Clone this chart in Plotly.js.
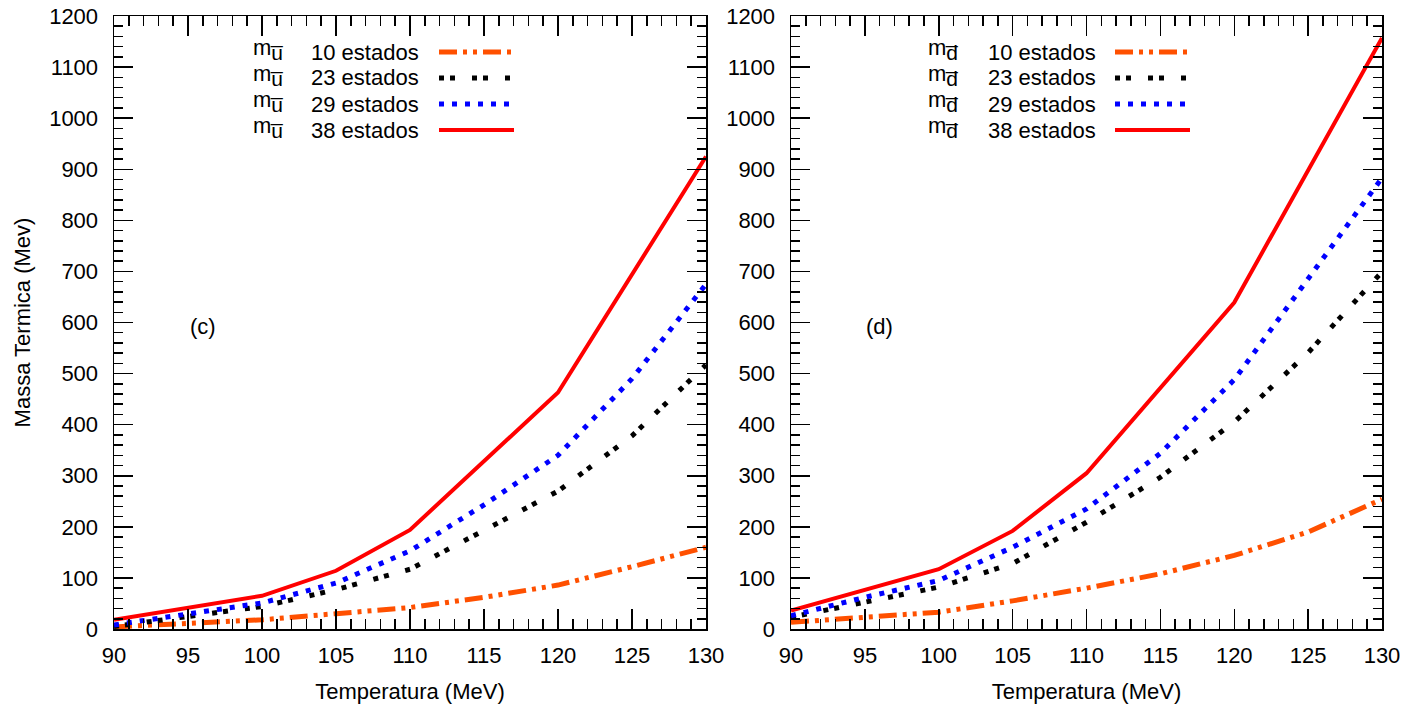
<!DOCTYPE html>
<html>
<head>
<meta charset="utf-8">
<script src="https://cdn.plot.ly/plotly-3.0.1.min.js"></script>
<style>html,body{margin:0;padding:0;background:#fff;}#chart{width:1423px;height:713px;}</style>
</head>
<body>
<div id="chart"></div>
<script>
// ---- data ----
const temps = [90, 95, 100, 105, 110, 115, 120, 125, 130];
const tempsRed = [90, 100, 105, 110, 120, 130];
const seriesNames = ["10 estados", "23 estados", "29 estados", "38 estados"];
// panel (c): m_u-bar
const c10 = [4, 10, 18, 30, 42, 62, 86, 122, 160];
const c23 = [5, 24, 44, 77, 117, 193, 270, 378, 517];
const c29 = [8, 30, 51, 90, 153, 243, 340, 490, 675];
const c38 = [18, 65, 114, 194, 463, 925];
// panel (d): m_d-bar
const d10 = [13, 23, 33, 55, 80, 108, 144, 190, 254];
const d23 = [23, 52, 82, 128, 209, 297, 405, 541, 699];
const d29 = [26, 62, 95, 160, 235, 344, 488, 685, 883];
const d38 = [36, 117, 192, 305, 639, 1157];
const xTickVals = [90, 95, 100, 105, 110, 115, 120, 125, 130];
const yTickVals = [0, 100, 200, 300, 400, 500, 600, 700, 800, 900, 1000, 1100, 1200];

// ---- styles ----
const FONT = "Liberation Sans, Arial, Helvetica, sans-serif";
const styles = [
  {color: "#ff5000", width: 5, dash: "18px,6px,4px,6px,4px,6px"},
  {color: "#000000", width: 5, dash: "5px,6px,5px,17px"},
  {color: "#0000ff", width: 5, dash: "5px,8px"},
  {color: "#ff0000", width: 4, dash: "solid"}
];

function tr(x, y, i, xa, ya) {
  return {x: x, y: y, type: "scatter", mode: "lines", xaxis: xa, yaxis: ya,
    line: {color: styles[i].color, width: styles[i].width, dash: styles[i].dash},
    showlegend: false, hoverinfo: "skip"};
}
const data = [
  tr(temps, c10, 0, "x", "y"), tr(temps, c23, 1, "x", "y"), tr(temps, c29, 2, "x", "y"), tr(tempsRed, c38, 3, "x", "y"),
  tr(temps, d10, 0, "x2", "y2"), tr(temps, d23, 1, "x2", "y2"), tr(temps, d29, 2, "x2", "y2"), tr(tempsRed, d38, 3, "x2", "y2")
];

function xax(dom, anchor) {
  return {domain: dom, anchor: anchor, range: [90, 130], tickvals: xTickVals,
    ticks: "inside", ticklen: 20, tickwidth: 1.5, tickcolor: "#000",
    minor: {dtick: 1, tick0: 90, ticks: "inside", ticklen: 10, tickwidth: 1.5, tickcolor: "#000"},
    showline: true, linewidth: 1.5, linecolor: "#000", mirror: "ticks",
    showgrid: false, zeroline: false, automargin: false,
    tickfont: {family: FONT, size: 22, color: "#000"}, ticklabelstandoff: 6,
    title: {text: "Temperatura (MeV)", font: {family: FONT, size: 22, color: "#000"}, standoff: 16}};
}
function yax(dom, anchor, withTitle) {
  const a = {domain: dom, anchor: anchor, range: [0, 1200], tickvals: yTickVals,
    ticks: "inside", ticklen: 19, tickwidth: 1.5, tickcolor: "#000",
    minor: {dtick: 20, tick0: 0, ticks: "inside", ticklen: 9, tickwidth: 1.5, tickcolor: "#000"},
    showline: true, linewidth: 1.5, linecolor: "#000", mirror: "ticks",
    showgrid: false, zeroline: false, automargin: false,
    tickfont: {family: FONT, size: 22, color: "#000"}, ticklabelstandoff: 10};
  if (withTitle) a.title = {text: "Massa Termica (Mev)", font: {family: FONT, size: 22, color: "#000"}, standoff: 12};
  return a;
}

const W = 1423, H = 713;
const yDom = [1 - 629 / H, 1 - 16 / H];
const layout = {
  width: W, height: H, margin: {l: 0, r: 0, t: 0, b: 0},
  paper_bgcolor: "#fff", plot_bgcolor: "#fff", showlegend: false,
  font: {family: FONT, size: 22, color: "#000"},
  xaxis: xax([114 / W, 706 / W], "y"),
  yaxis: yax(yDom, "x", true),
  xaxis2: xax([791 / W, 1382 / W], "y2"),
  yaxis2: yax(yDom, "x2", false),
  annotations: [], shapes: []
};

layout.annotations.push({x: 96, y: 593, xref: "x", yref: "y", text: "(c)", showarrow: false, font: {family: FONT, size: 22}});
layout.annotations.push({x: 96, y: 593, xref: "x2", yref: "y2", text: "(d)", showarrow: false, font: {family: FONT, size: 22}});

// custom key (text left of sample, gnuplot style)
const keys = [
  {mx: 251, tx: 309, sx0: 439, sx1: 514, sub: "u\u0305"},
  {mx: 926, tx: 986, sx0: 1115, sx1: 1190, sub: "d\u0305"}
];
const rowY = [52, 78, 104, 130];
keys.forEach(k => {
  for (let i = 0; i < 4; i++) {
    const yp = 1 - rowY[i] / H;
    layout.annotations.push({xref: "paper", yref: "paper", x: k.mx / W, y: yp + 0.004, xanchor: "left", yanchor: "middle",
      text: "m<sub><span style=\"font-size:21px\">" + k.sub + "</span></sub>", showarrow: false, font: {family: FONT, size: 22}});
    layout.annotations.push({xref: "paper", yref: "paper", x: k.tx / W, y: yp, xanchor: "left", yanchor: "middle",
      text: seriesNames[i], showarrow: false, font: {family: FONT, size: 22}});
    layout.shapes.push({type: "line", xref: "paper", yref: "paper", x0: k.sx0 / W, x1: k.sx1 / W, y0: yp, y1: yp,
      line: {color: styles[i].color, width: styles[i].width, dash: styles[i].dash}});
  }
});

Plotly.newPlot("chart", data, layout, {displayModeBar: false, staticPlot: true});
</script>
</body>
</html>
